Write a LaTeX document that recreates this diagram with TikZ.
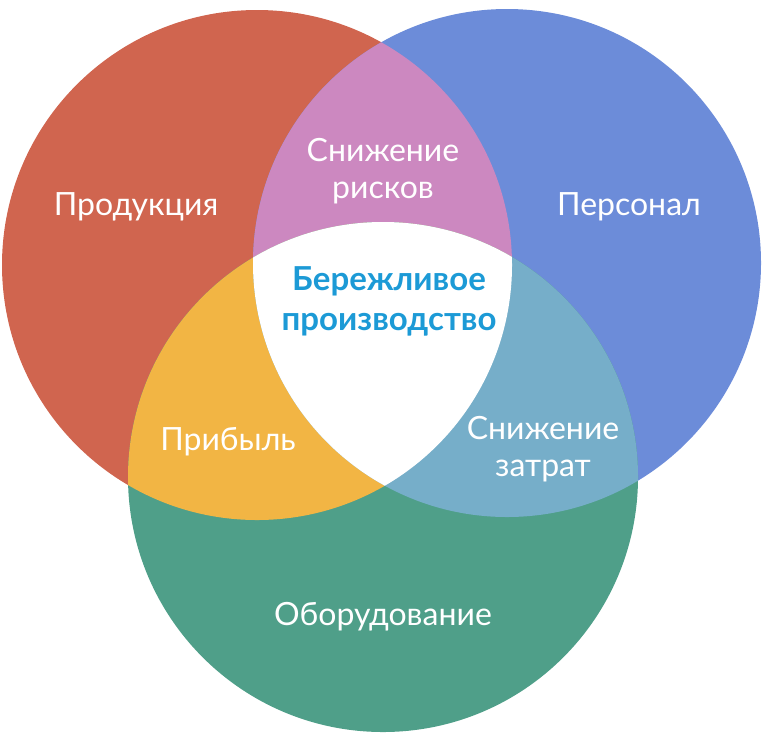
\documentclass[tikz,border=0pt]{standalone}
\usepackage{fontspec}
\setmainfont{Lato}
\definecolor{prodred}{HTML}{D0654F}
\definecolor{persblue}{HTML}{6C8CD9}
\definecolor{equipgreen}{HTML}{4F9F89}
\definecolor{riskpink}{HTML}{CC88C0}
\definecolor{profityellow}{HTML}{F2B544}
\definecolor{costteal}{HTML}{76AEC9}
\definecolor{leanblue}{HTML}{1C9AD6}

\begin{document}
\begin{tikzpicture}%
    [x = 1pt, y = -1pt,
     lbl/.style = {text=white, align=center, inner sep=0pt, font=\fontsize{32}{37}\selectfont},
     lean/.style = {text=leanblue, align=center, inner sep=0pt, font=\bfseries\fontsize{33}{40}\selectfont}]
    \useasboundingbox (0,0) rectangle (775,740);
    \coordinate (rc) at (257,265);
    \coordinate (bc) at (507,263);
    \coordinate (gc) at (383,477);

    \fill [prodred] (rc) circle (255pt);
    \fill [persblue] (bc) circle (254pt);
    \fill [equipgreen] (gc) circle (255pt);

    \begin{scope}
        \clip (rc) circle (255pt);
        \fill [riskpink] (bc) circle (254pt);
        \fill [profityellow] (gc) circle (255pt);
    \end{scope}
    \begin{scope}
        \clip (bc) circle (254pt);
        \fill [costteal] (gc) circle (255pt);
        \clip (rc) circle (255pt);
        \fill [white] (gc) circle (255pt);
    \end{scope}

    \node [lbl, anchor=base] (prod) at (136,215) {Продукция};
    \node [lbl, anchor=base] (pers) at (629,215) {Персонал};
    \node [lbl] (risk) at (383,171) {Снижение\\рисков};
    \node [lbl, anchor=base] (profit) at (228,450) {Прибыль};
    \node [lbl] (cost) at (543,449) {Снижение\\затрат};
    \node [lbl, anchor=base] (equip) at (383,625) {Оборудование};
    \node [lean] (core) at (389,301) {Бережливое\\производство};
\end{tikzpicture}
\end{document}
